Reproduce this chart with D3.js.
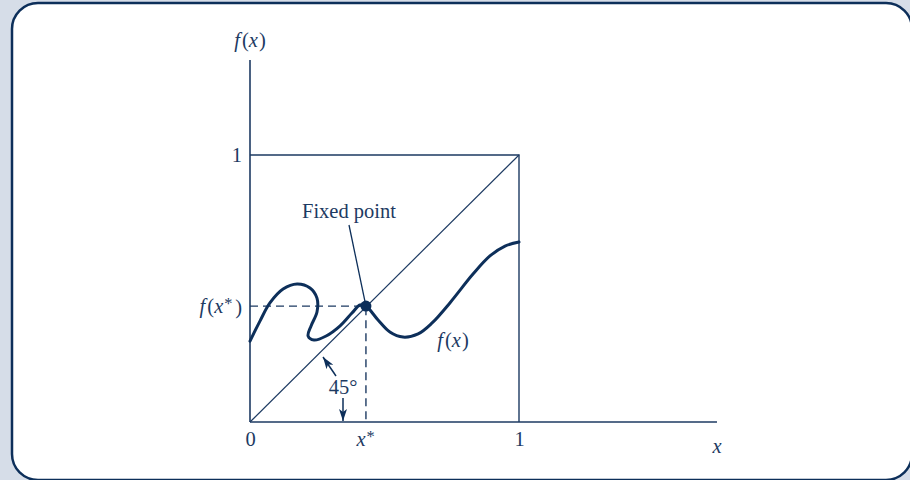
<!DOCTYPE html>
<html>
<head>
<meta charset="utf-8">
<script src="https://cdn.jsdelivr.net/npm/d3@7"></script>
<style>
  html, body { margin: 0; padding: 0; background: #d6dde8; }
  svg { display: block; }
  text { font-family: "Liberation Serif", serif; fill: #1d3a62; }
</style>
</head>
<body>
<svg id="chart" width="910" height="480"></svg>
<script>
'use strict';

// curve f(x) as (x, f) pairs on the unit square
const curveX = [0, 0.037, 0.074, 0.123, 0.175, 0.223, 0.249, 0.249, 0.227, 0.216, 0.238, 0.283,
                0.335, 0.379, 0.409, 0.431, 0.476, 0.520, 0.569, 0.625, 0.677, 0.743, 0.829,
                0.892, 0.948, 1];
const curveY = [0.303, 0.378, 0.446, 0.498, 0.517, 0.502, 0.464, 0.412, 0.360, 0.322, 0.307, 0.322,
                0.360, 0.408, 0.438, 0.434, 0.382, 0.337, 0.318, 0.330, 0.371, 0.446, 0.554,
                0.622, 0.659, 0.674];

// fixed point and axis extents
const xStar = 0.431;
const fStar = 0.434;
const xAxisMax = 1.736;
const yAxisMax = 1.356;

// tick labels
const xTicks = [0, xStar, 1];
const xTickLabels = ['0', 'x*', '1'];
const yTicks = [fStar, 1];
const yTickLabels = ['f(x*)', '1'];

const navy = '#0d2f5a';
const ink = '#1d3a62';
const fontSize = '20.5px';

const svg = d3.select('#chart');

// panel frame
svg.append('rect')
    .attr('x', 12).attr('y', 3)
    .attr('width', 900).attr('height', 477)
    .attr('rx', 26).attr('ry', 26)
    .style('fill', '#fff')
    .style('stroke', navy)
    .style('stroke-width', 2.5);

// scales
const x = d3.scaleLinear().domain([0, 1]).range([250, 519]);
const y = d3.scaleLinear().domain([0, 1]).range([422, 155]);

// arrow marker
svg.append('defs').append('marker')
    .attr('id', 'arrow')
    .attr('viewBox', '0 -4 12 8')
    .attr('refX', 12).attr('refY', 0)
    .attr('markerWidth', 12).attr('markerHeight', 8)
    .attr('markerUnits', 'userSpaceOnUse')
    .attr('orient', 'auto')
  .append('path')
    .attr('d', 'M0,-4L12,0L0,4L3,0Z')
    .style('fill', navy);

const g = svg.append('g');

// axes lines
g.append('line')
    .attr('x1', x(0)).attr('x2', x(xAxisMax))
    .attr('y1', y(0)).attr('y2', y(0))
    .style('stroke', ink).style('stroke-width', 1.6);
g.append('line')
    .attr('x1', x(0)).attr('x2', x(0))
    .attr('y1', y(0)).attr('y2', y(yAxisMax))
    .style('stroke', ink).style('stroke-width', 1.6);

// unit square (top and right side)
g.append('path')
    .attr('d', `M${x(0)},${y(1)}H${x(1)}V${y(0)}`)
    .style('fill', 'none').style('stroke', ink).style('stroke-width', 1.4);

// 45 degree line
g.append('line')
    .attr('x1', x(0)).attr('y1', y(0))
    .attr('x2', x(1)).attr('y2', y(1))
    .style('stroke', ink).style('stroke-width', 1.2);

// dashed guides to the fixed point
g.append('path')
    .attr('d', `M${x(0)},${y(fStar)}H${x(xStar)}V${y(0)}`)
    .style('fill', 'none').style('stroke', ink)
    .style('stroke-width', 1.4).style('stroke-dasharray', '8,5');

// the curve
const line = d3.line()
    .x((d) => x(d[0]))
    .y((d) => y(d[1]))
    .curve(d3.curveCatmullRom.alpha(0.5));

g.append('path')
    .datum(d3.zip(curveX, curveY))
    .attr('d', line)
    .style('fill', 'none').style('stroke', navy)
    .style('stroke-width', 3).style('stroke-linecap', 'round');

// fixed point
g.append('circle')
    .attr('cx', x(xStar)).attr('cy', y(fStar))
    .attr('r', 5.5)
    .style('fill', navy);

// leader line to the label
g.append('line')
    .attr('x1', 349).attr('y1', 225)
    .attr('x2', x(xStar)).attr('y2', y(fStar))
    .style('stroke', navy).style('stroke-width', 1.3);

g.append('text')
    .attr('x', 349).attr('y', 218)
    .attr('text-anchor', 'middle')
    .style('font-size', fontSize)
    .text('Fixed point');

// math label helper: italic letters, upright brackets with a little air
function mathText(sel, s) {
  s.split(/([()])/).filter((t) => t.length).forEach((t) => {
    const isParen = t === '(' || t === ')';
    if (isParen) {
      sel.append('tspan').attr('dx', t === '(' ? 2 : 1).text(t);
      return;
    }
    const parts = t.split('*');
    parts.forEach((p, i) => {
      if (p.length) {
        sel.append('tspan').style('font-style', 'italic').text(p);
      }
      if (i < parts.length - 1) {
        sel.append('tspan').style('font-size', '0.8em').attr('dx', 1).attr('dy', '-0.25em').text('*');
        sel.append('tspan').attr('dy', '0.25em').text('\u200a');
      }
    });
  });
}

// x tick labels via axis
const xAxis = d3.axisBottom(x)
    .tickValues(xTicks)
    .tickSize(0)
    .tickPadding(12)
    .tickFormat('');
const xg = g.append('g')
    .attr('transform', `translate(0,${y(0)})`)
    .call(xAxis);
xg.select('.domain').remove();
xg.selectAll('.tick text').each(function(d, i) {
  const t = d3.select(this)
      .attr('y', 24).attr('dy', null)
      .style('font-size', fontSize)
      .style('font-family', '"Liberation Serif", serif')
      .style('fill', ink);
  if (i === 1) mathText(t, xTickLabels[i]);
  else t.text(xTickLabels[i]);
});

// y tick labels via axis
const yAxis = d3.axisLeft(y)
    .tickValues(yTicks)
    .tickSize(0)
    .tickPadding(8)
    .tickFormat('');
const yg = g.append('g')
    .attr('transform', `translate(${x(0)},0)`)
    .call(yAxis);
yg.select('.domain').remove();
yg.selectAll('.tick text').each(function(d, i) {
  const t = d3.select(this)
      .style('font-size', fontSize)
      .style('font-family', '"Liberation Serif", serif')
      .style('fill', ink);
  if (i === 0) mathText(t, yTickLabels[i]);
  else t.text(yTickLabels[i]);
});

// axis titles
mathText(g.append('text')
    .attr('x', x(xAxisMax)).attr('y', y(0) + 24)
    .attr('dy', '0.32em')
    .attr('text-anchor', 'middle')
    .style('font-size', fontSize), 'x');

mathText(g.append('text')
    .attr('x', x(0)).attr('y', 47)
    .attr('text-anchor', 'middle')
    .style('font-size', fontSize), 'f(x)');

// curve label
mathText(g.append('text')
    .attr('x', 453).attr('y', 347)
    .attr('text-anchor', 'middle')
    .style('font-size', fontSize), 'f(x)');

// 45 degree annotation
g.append('text')
    .attr('x', 343).attr('y', 394)
    .attr('text-anchor', 'middle')
    .style('font-size', fontSize)
    .text('45°');

g.append('line')
    .attr('x1', 336).attr('y1', 376)
    .attr('x2', 323).attr('y2', 357)
    .attr('marker-end', 'url(#arrow)')
    .style('stroke', navy).style('stroke-width', 1.5);

g.append('line')
    .attr('x1', 343).attr('y1', 398)
    .attr('x2', 343).attr('y2', y(0) - 1)
    .attr('marker-end', 'url(#arrow)')
    .style('stroke', navy).style('stroke-width', 1.5);
</script>
</body>
</html>
